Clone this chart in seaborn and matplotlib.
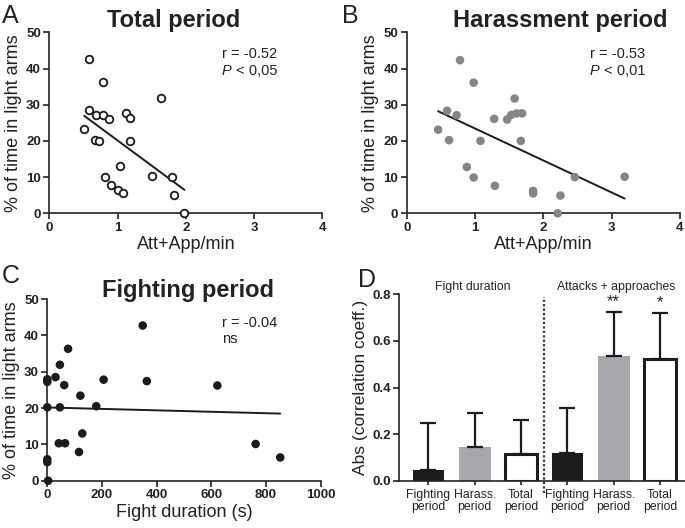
import numpy as np
import pandas as pd
import matplotlib
matplotlib.use("Agg")
import matplotlib.pyplot as plt
import seaborn as sns

# ---------------- data ----------------
# Panel A: total period
a_x = [0.58, 0.78, 1.64, 0.58, 0.68, 0.78, 0.87, 1.13, 1.18, 0.51, 0.67, 0.73,
       1.18, 1.03, 0.81, 0.91, 1.00, 1.08, 1.50, 1.80, 1.83, 1.98]
a_y = [42.5, 36.3, 31.8, 28.5, 27.2, 27.2, 26.1, 27.7, 26.2, 23.3, 20.3, 20.1,
       20.1, 13.0, 10.0, 7.8, 6.3, 5.6, 10.2, 10.1, 5.0, 0.0]
# Panel B: harassment period
b_x = [0.78, 0.98, 1.58, 0.59, 0.73, 1.28, 1.47, 1.53, 1.61, 1.69, 0.46, 0.62,
       1.08, 1.67, 0.88, 0.98, 1.29, 1.85, 1.85, 2.25, 2.21, 2.46, 3.19]
b_y = [42.3, 36.1, 31.7, 28.3, 27.1, 26.1, 25.9, 27.2, 27.6, 27.6, 23.1, 20.2,
       20.0, 20.0, 12.8, 9.9, 7.6, 6.2, 5.5, 4.9, 0.0, 10.0, 10.1]
# Panel C: fighting period
c_x = [0, 0, 30, 46, 76, 62, 121, 0, 46, 179, 206, 349, 364, 622, 42, 65, 128,
       116, 0, 0, 3, 762, 852]
c_y = [27.9, 27.2, 28.5, 31.9, 36.3, 26.3, 23.4, 20.2, 20.2, 20.5, 27.8, 42.7,
       27.4, 26.2, 10.3, 10.3, 13.0, 7.9, 5.9, 5.1, 0.0, 10.1, 6.4]
# Panel D: abs correlation coefficients
d_ids = ["fd_fight", "fd_harass", "fd_total", "aa_fight", "aa_harass", "aa_total"]
d_labels = ["Fighting\nperiod", "Harass.\nperiod", "Total\nperiod",
            "Fighting\nperiod", "Harass.\nperiod", "Total\nperiod"]
d_values = [0.046, 0.146, 0.113, 0.118, 0.535, 0.524]
d_errors = [0.200, 0.143, 0.147, 0.193, 0.188, 0.197]
d_stars = ["", "", "", "", "**", "*"]
d_groups = ["Fight duration", "Attacks + approaches"]

xticks_ab = [0, 1, 2, 3, 4]
xticks_c = [0, 200, 400, 600, 800, 1000]
yticks_abc = [0, 10, 20, 30, 40, 50]
yticks_d = [0.0, 0.2, 0.4, 0.6, 0.8]

stats_a = ["r = -0.52", "P", " < 0,05"]
stats_b = ["r = -0.53", "P", " < 0,01"]
stats_c = ["r = -0.04", "ns"]

# ---------------- style ----------------
sns.set_theme(style="ticks")
plt.rcParams["font.family"] = ["Liberation Sans", "DejaVu Sans"]
plt.rcParams.update({
    "axes.linewidth": 1.2,
    "xtick.major.width": 1.2, "ytick.major.width": 1.2,
    "xtick.major.size": 4, "ytick.major.size": 4,
    "text.color": "#222222", "axes.labelcolor": "#222222",
    "xtick.color": "#222222", "ytick.color": "#222222",
    "axes.edgecolor": "#222222",
})

W, H = 685, 528
fig = plt.figure(figsize=(W / 100, H / 100), dpi=100)

def frac_axes(left, top, right, bottom):
    return fig.add_axes([left / W, 1 - bottom / H, (right - left) / W, (bottom - top) / H])

axA = frac_axes(49.3, 32.3, 322.3, 213.3)
axB = frac_axes(406.7, 32.3, 680.0, 213.3)
axC = frac_axes(47.3, 299.0, 320.7, 480.7)
axD = frac_axes(399.3, 294.3, 685.0, 480.7)

INK = "#1c1c1c"
TICKFS = 9.5

def style_scatter_axis(ax, xlim, xticks, xlabel):
    sns.despine(ax=ax)
    ax.set_xlim(*xlim)
    ax.set_ylim(0, 50)
    ax.set_xticks(xticks, labels=[str(t) for t in xticks], fontweight="bold",
                  fontsize=TICKFS)
    ax.set_yticks(yticks_abc, labels=[str(t) for t in yticks_abc], fontweight="bold",
                  fontsize=TICKFS)
    ax.set_xlabel(xlabel, fontsize=13, labelpad=2)
    ax.set_ylabel("% of time in light arms", fontsize=13, labelpad=3)
    ax.tick_params(pad=2)

# Panel A
dfA = pd.DataFrame({"x": a_x, "y": a_y})
sns.regplot(data=dfA, x="x", y="y", ax=axA, ci=None, scatter=False, truncate=True,
            line_kws={"color": INK, "lw": 1.4})
sns.scatterplot(data=dfA, x="x", y="y", ax=axA, s=30, facecolor="white",
                edgecolor=INK, linewidth=1.3, zorder=3, clip_on=False)
style_scatter_axis(axA, (0, 4), xticks_ab, "Att+App/min")

# Panel B
dfB = pd.DataFrame({"x": b_x, "y": b_y})
sns.regplot(data=dfB, x="x", y="y", ax=axB, ci=None, scatter=False, truncate=True,
            line_kws={"color": INK, "lw": 1.4})
sns.scatterplot(data=dfB, x="x", y="y", ax=axB, s=38, color="#858585",
                edgecolor="none", zorder=3, clip_on=False)
style_scatter_axis(axB, (0, 4), xticks_ab, "Att+App/min")

# Panel C
dfC = pd.DataFrame({"x": c_x, "y": c_y})
sns.regplot(data=dfC, x="x", y="y", ax=axC, ci=None, scatter=False, truncate=True,
            line_kws={"color": INK, "lw": 1.4})
sns.scatterplot(data=dfC, x="x", y="y", ax=axC, s=38, color=INK,
                edgecolor="none", zorder=3, clip_on=False)
style_scatter_axis(axC, (0, 1000), xticks_c, "Fight duration (s)")

# stats text
def stats(ax, x, y1, y2, r):
    ax.text(x, y1, r[0], fontsize=10.5, va="baseline", ha="left")
    if len(r) == 3:
        t = ax.text(x, y2, r[1], fontsize=10.5, va="baseline", ha="left", style="italic")
        ax.annotate(r[2], xycoords=t, xy=(1, 0), va="bottom", ha="left", fontsize=10.5)
    else:
        ax.text(x, y2, r[1], fontsize=10.5, va="baseline", ha="left")

stats(axA, 2.53, 42.8, 38.2, stats_a)
stats(axB, 2.68, 42.8, 38.2, stats_b)
stats(axC, 638, 42.4, 37.8, stats_c)

# Panel D
dfD = pd.DataFrame({"id": d_ids, "val": d_values})
pal = {d_ids[0]: INK, d_ids[1]: "#a7a8ab", d_ids[2]: "white",
       d_ids[3]: INK, d_ids[4]: "#a7a8ab", d_ids[5]: "white"}
sns.barplot(data=dfD, x="id", y="val", hue="id", palette=pal, order=d_ids,
            hue_order=d_ids, width=0.685, errorbar=None, legend=False, ax=axD,
            saturation=1)
for i, patch in enumerate(axD.patches):
    if pal[d_ids[i]] == "white":
        patch.set_edgecolor(INK)
        patch.set_linewidth(2.2)
    else:
        patch.set_edgecolor("none")
xpos = np.arange(len(d_ids))
axD.errorbar(xpos, d_values, yerr=[np.zeros(len(d_errors)), d_errors], fmt="none",
             ecolor=INK, elinewidth=1.6, capsize=5.5, capthick=1.6, zorder=1)
sns.despine(ax=axD)
axD.set_xlim(-0.63, 5.54)
axD.set_ylim(0, 0.8)
axD.set_yticks(yticks_d, labels=[f"{v:.1f}" for v in yticks_d], fontweight="bold",
               fontsize=TICKFS)
axD.set_xticks(xpos, labels=d_labels, fontsize=8.8, linespacing=1.05)
axD.tick_params(axis="x", length=3, pad=3)
axD.tick_params(axis="y", pad=2)
axD.set_xlabel("")
axD.set_ylabel("Abs (correlation coeff.)", fontsize=12.5, labelpad=3)
axD.plot([2.5, 2.5], [-0.053, 0.79], color="#333333", lw=1.6, ls=(0, (1, 1)),
         clip_on=False)
axD.text(0.95, 0.833, d_groups[0], ha="center", va="center", fontsize=8.8)
axD.text(4.06, 0.833, d_groups[1], ha="center", va="center", fontsize=8.8)
for i, s in enumerate(d_stars):
    if s:
        axD.text(xpos[i], d_values[i] + d_errors[i] + 0.012, s, ha="center",
                 va="bottom", fontsize=12)

# titles and panel letters
fig.text(173.3 / W, 1 - 26.7 / H, "Total period", ha="center", va="baseline",
         fontsize=17, fontweight="bold")
fig.text(560 / W, 1 - 27.3 / H, "Harassment period", ha="center", va="baseline",
         fontsize=17, fontweight="bold")
fig.text(187.5 / W, 1 - 296.7 / H, "Fighting period", ha="center", va="baseline",
         fontsize=17, fontweight="bold")
for lt, x, y in [("A", 2, 23.3), ("B", 341.7, 23.3), ("C", 2, 283.3), ("D", 358, 287.0)]:
    fig.text(x / W, 1 - y / H, lt, ha="left", va="baseline", fontsize=18)

fig.savefig("out.png", dpi=100)
